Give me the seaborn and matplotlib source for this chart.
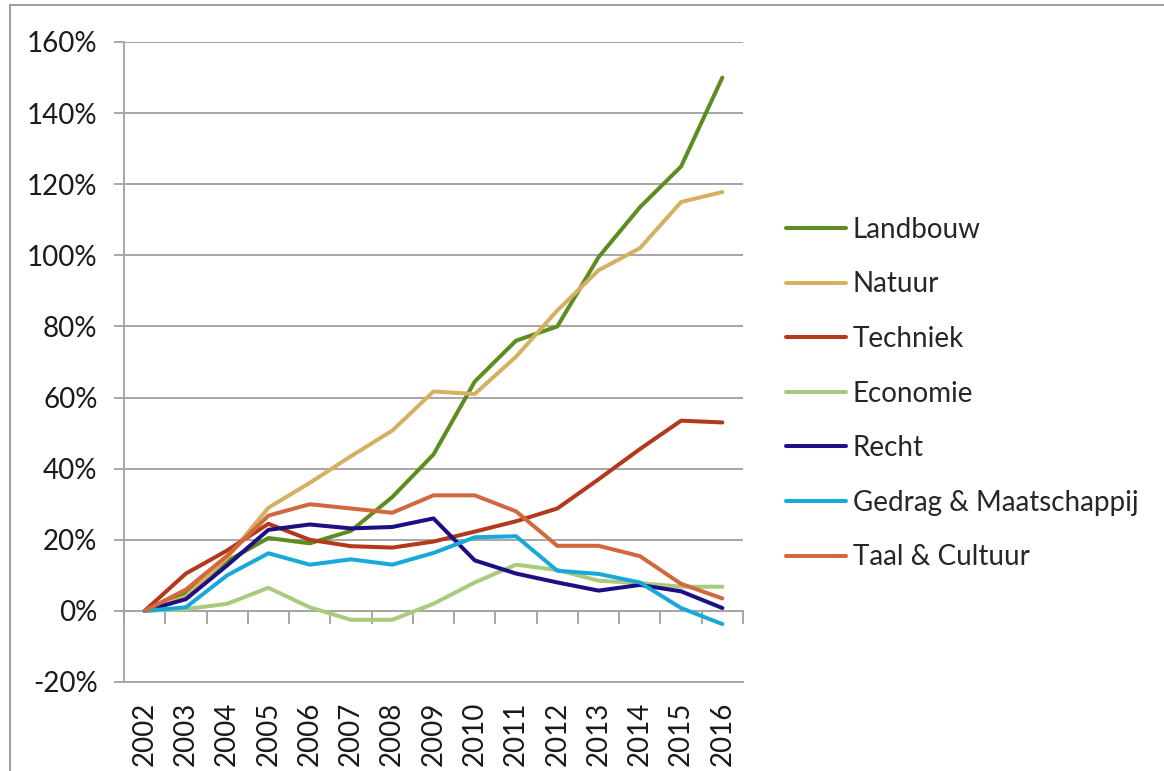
import matplotlib
matplotlib.use("Agg")
import matplotlib.pyplot as plt
from matplotlib.lines import Line2D
import pandas as pd
import seaborn as sns

sns.set_theme(style="white")
plt.rcParams['font.family'] = ['Lato', 'DejaVu Sans']

# growth since 2002, in percent
years = [str(y) for y in range(2002, 2017)]
landbouw = [0, 5, 14, 20.5, 19, 22.5, 32, 44, 64.5, 76, 80, 99.5, 113.5, 125, 150]
natuur = [0, 4, 15, 29, 36, 43.5, 50.7, 61.7, 61, 71.5, 84.5, 95.8, 102, 115, 117.8]
techniek = [0, 10.5, 17, 24.5, 20, 18.2, 17.8, 19.5, 22.3, 25.2, 28.8, 37, 45.5, 53.5, 53]
economie = [0, 0.5, 2, 6.5, 1, -2.5, -2.5, 2, 8, 13, 11.5, 8.5, 7.8, 6.8, 6.8]
recht = [0, 3.3, 12.8, 22.8, 24.3, 23.2, 23.6, 26, 14.2, 10.5, 8, 5.7, 7.3, 5.5, 0.8]
gedrag = [0, 1, 10, 16.2, 13, 14.5, 13, 16.3, 20.7, 21, 11.3, 10.4, 8, 0.8, -3.7]
taal = [0, 6, 15.5, 26.8, 30, 28.8, 27.6, 32.5, 32.5, 28, 18.3, 18.3, 15.4, 7.6, 3.5]

series = {
    'Landbouw': landbouw,
    'Natuur': natuur,
    'Techniek': techniek,
    'Economie': economie,
    'Recht': recht,
    'Gedrag & Maatschappij': gedrag,
    'Taal & Cultuur': taal,
}
colors = {
    'Landbouw': '#5E8D1F',
    'Natuur': '#D6B062',
    'Techniek': '#B2391B',
    'Economie': '#A9CB7D',
    'Recht': '#1E0F85',
    'Gedrag & Maatschappij': '#18A9D8',
    'Taal & Cultuur': '#D2683E',
}

rows = []
for name, vals in series.items():
    for yr, v in zip(years, vals):
        rows.append({'jaar': yr, 'groei': v, 'richting': name})
df = pd.DataFrame(rows)

fig = plt.figure(figsize=(11.64, 7.71), dpi=100)
ax = fig.add_axes([124 / 1164, 89 / 771, 619 / 1164, 640 / 771])

grid_col = '#A6A6A6'
sns.lineplot(data=df, x='jaar', y='groei', hue='richting', palette=colors,
             linewidth=2.9, sort=False, ax=ax, legend=True)

ymin, ymax = -20, 160
ax.set_ylim(ymin, ymax)
ax.set_xlim(-0.5, len(years) - 0.5)
ax.set_yticks(range(ymin, ymax + 1, 20))
ax.set_yticklabels([f"{v}%" for v in range(ymin, ymax + 1, 20)], fontsize=20, color='#1a1a1a')
ax.set_xticks(range(len(years)))
ax.set_xticklabels(years, rotation=90, fontsize=20, color='#1a1a1a')
ax.tick_params(axis='x', length=0, pad=14)
ax.tick_params(axis='y', direction='out', length=7, width=1.4, color=grid_col, left=True, pad=12)
ax.set_xlabel('')
ax.set_ylabel('')
ax.yaxis.grid(True, color=grid_col, linewidth=1.4)
ax.xaxis.grid(False)
ax.set_axisbelow(True)
for side in ['top', 'right']:
    ax.spines[side].set_visible(False)
for side in ['left', 'bottom']:
    ax.spines[side].set_color(grid_col)
    ax.spines[side].set_linewidth(1.4)

# category axis crosses at 0%, tick marks between the years
zero_frac = (0 - ymin) / (ymax - ymin)
sec = ax.secondary_xaxis(zero_frac)
sec.set_xticks([i + 0.5 for i in range(-1, len(years))])
sec.set_xticklabels([])
sec.tick_params(axis='x', direction='out', length=9, width=1.4, color=grid_col)
sec.spines['bottom'].set_color(grid_col)
sec.spines['bottom'].set_linewidth(1.4)

handles, labels = ax.get_legend_handles_labels()
ax.legend(handles, labels, loc='center left', bbox_to_anchor=(786 / 1164, 0.4896),
          bbox_transform=fig.transFigure, frameon=False, fontsize=20,
          handlelength=2.15, handletextpad=0.25, labelspacing=1.03,
          borderpad=0, borderaxespad=0)

# chart frame
frame_col = '#8C8C8C'
fig.add_artist(Line2D([10 / 1164, 1], [1 - 5 / 771, 1 - 5 / 771], transform=fig.transFigure,
                      color=frame_col, linewidth=1.2))
fig.add_artist(Line2D([10 / 1164, 10 / 1164], [0, 1 - 5 / 771], transform=fig.transFigure,
                      color=frame_col, linewidth=1.2))

fig.savefig('out.png', dpi=100)
